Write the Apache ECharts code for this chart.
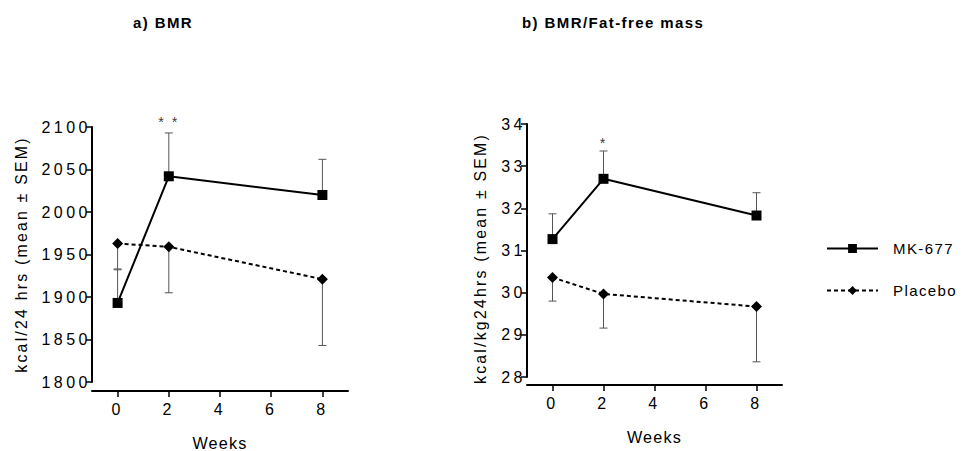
<!DOCTYPE html>
<html>
<head>
<meta charset="utf-8">
<script src="https://cdn.jsdelivr.net/npm/echarts@6/dist/echarts.min.js"></script>
<style>
  html, body { margin: 0; padding: 0; background: #fff; }
  #chart { width: 962px; height: 451px; }
  #chart text { letter-spacing: 1.4px; }
  #chart text[style*="bold 15px"], #chart text[font-weight="bold"] { letter-spacing: 2.5px; }
  #chart text[style*=" 16px"], #chart text[font-size="16px"] { letter-spacing: 3.5px; }
  #chart text[style*="15.9px"], #chart text[font-size="15.9px"] { letter-spacing: 2.2px; }
  #chart text[style*="16.2px"], #chart text[font-size="16.2px"] { letter-spacing: 1.2px; }
  #chart text[style*="14.5px"], #chart text[font-size="14.5px"] { letter-spacing: 2px; }
</style>
</head>
<body>
<div id="chart"></div>
<script>
// ---- data ----
var weeks = [0, 2, 8];
var xTicks = [0, 2, 4, 6, 8];
var bmrMK = [1893, 2042, 2020];
var bmrMKsem = [40, 51, 42];
var bmrPl = [1963, 1959, 1921];
var bmrPlsem = [31, 54, 78];
var ffmMK = [31.27, 32.70, 31.83];
var ffmMKsem = [0.60, 0.66, 0.54];
var ffmPl = [30.36, 29.97, 29.67];
var ffmPlsem = [0.56, 0.81, 1.31];
var bmrTicks = [1800, 2100, 50];
var ffmTicks = [28, 34, 1];
var starsA = [[2, 2106, '* *']];
var starsB = [[2, 33.55, '*']];

var FONT = '"Liberation Sans", Arial, Helvetica, sans-serif';

function pts(xs, ys) { return xs.map(function (x, i) { return [x, ys[i]]; }); }
// error bar rows: [x, mean, end]
function errRows(xs, ys, sem, dir) {
  return xs.map(function (x, i) { return [x, ys[i], ys[i] + dir * sem[i]]; });
}

function errSeries(idx, rows) {
  return {
    type: 'custom', xAxisIndex: idx, yAxisIndex: idx, z: 1, silent: true,
    data: rows,
    renderItem: function (params, api) {
      var p0 = api.coord([api.value(0), api.value(1)]);
      var p1 = api.coord([api.value(0), api.value(2)]);
      var hw = 4;
      var st = { stroke: '#555', lineWidth: 1 };
      return {
        type: 'group', children: [
          { type: 'line', shape: { x1: p0[0], y1: p0[1], x2: p1[0], y2: p1[1] }, style: st },
          { type: 'line', shape: { x1: p1[0] - hw, y1: p1[1], x2: p1[0] + hw, y2: p1[1] }, style: st }
        ]
      };
    }
  };
}

function xAxisCfg(idx, offset, gap) {
  return {
    type: 'value', gridIndex: idx, min: -1, max: 9, offset: offset,
    splitLine: { show: false },
    axisLine: { show: true, onZero: false, lineStyle: { color: '#000', width: 2 } },
    axisTick: { show: true, customValues: xTicks, length: 6, lineStyle: { color: '#000', width: 1.5 } },
    axisLabel: { customValues: xTicks, margin: 10, color: '#000', fontSize: 16, fontFamily: FONT },
    name: 'Weeks', nameLocation: 'middle', nameGap: gap,
    nameTextStyle: { color: '#000', fontSize: 16.2, fontFamily: FONT }
  };
}
function yAxisCfg(idx, t, name, gap, pad) {
  return {
    type: 'value', gridIndex: idx, min: t[0], max: t[1], interval: t[2],
    splitLine: { show: false },
    axisLine: { show: true, onZero: false, lineStyle: { color: '#000', width: 2 } },
    axisTick: { show: true, length: 6, lineStyle: { color: '#000', width: 1.5 } },
    axisLabel: { margin: 1, color: '#000', fontSize: 16, fontFamily: FONT,
      formatter: function (v) { return String(v); } },
    name: name, nameLocation: 'middle', nameGap: gap, nameRotate: 90,
    nameTextStyle: { color: '#000', fontSize: 15.9, fontFamily: FONT, padding: pad }
  };
}
function lineSeries(idx, name, data, dashed) {
  return {
    type: 'line', name: name, xAxisIndex: idx, yAxisIndex: idx, z: 3,
    data: data,
    symbol: dashed ? 'diamond' : 'rect',
    symbolSize: dashed ? 11 : 10,
    showSymbol: true,
    itemStyle: { color: '#000' },
    lineStyle: { color: '#000', width: 2, type: dashed ? [4, 3] : 'solid' },
    emphasis: { disabled: true },
    animation: false
  };
}
function starSeries(idx, rows) {
  return {
    type: 'scatter', xAxisIndex: idx, yAxisIndex: idx, symbolSize: 0, silent: true,
    clip: false,
    data: rows,
    itemStyle: { color: '#000' },
    label: { show: true, position: 'inside', formatter: function (p) { return p.value[2]; },
      color: '#000', fontSize: 14.5, fontFamily: FONT }
  };
}

var chart = echarts.init(document.getElementById('chart'), null, { renderer: 'svg' });
chart.setOption({
  animation: false,
  backgroundColor: '#fff',
  title: [
    { text: 'a) BMR', left: 133, top: 15, padding: 0,
      textStyle: { fontSize: 15, fontWeight: 'bold', color: '#000', fontFamily: FONT } },
    { text: 'b) BMR/Fat-free mass', left: 522, top: 15, padding: 0,
      textStyle: { fontSize: 15, fontWeight: 'bold', color: '#000', fontFamily: FONT } }
  ],
  legend: {
    data: ['MK-677', 'Placebo'], orient: 'vertical', left: 826, top: 241, padding: 0,
    itemWidth: 51, itemHeight: 11, itemGap: 27,
    textStyle: { fontSize: 15, color: '#000', fontFamily: FONT, padding: [0, 0, 0, 10] },
    selectedMode: false
  },
  grid: [
    { left: 92, top: 127, width: 256, height: 255, outerBoundsMode: 'none', containLabel: false },
    { left: 527, top: 124, width: 255, height: 253, outerBoundsMode: 'none', containLabel: false }
  ],
  xAxis: [xAxisCfg(0, 9, 44), xAxisCfg(1, 8, 44)],
  yAxis: [
    yAxisCfg(0, bmrTicks, 'kcal/24 hrs (mean ± SEM)', 63, [0, 0, 0, 0]),
    yAxisCfg(1, ffmTicks, 'kcal/kg24hrs (mean ± SEM)', 39, [0, 16, 0, 0])
  ],
  series: [
    errSeries(0, errRows(weeks, bmrMK, bmrMKsem, 1)),
    errSeries(0, errRows(weeks, bmrPl, bmrPlsem, -1)),
    errSeries(1, errRows(weeks, ffmMK, ffmMKsem, 1)),
    errSeries(1, errRows(weeks, ffmPl, ffmPlsem, -1)),
    lineSeries(0, 'MK-677', pts(weeks, bmrMK), false),
    lineSeries(0, 'Placebo', pts(weeks, bmrPl), true),
    lineSeries(1, 'MK-677', pts(weeks, ffmMK), false),
    lineSeries(1, 'Placebo', pts(weeks, ffmPl), true),
    starSeries(0, starsA),
    starSeries(1, starsB)
  ]
});
</script>
</body>
</html>
